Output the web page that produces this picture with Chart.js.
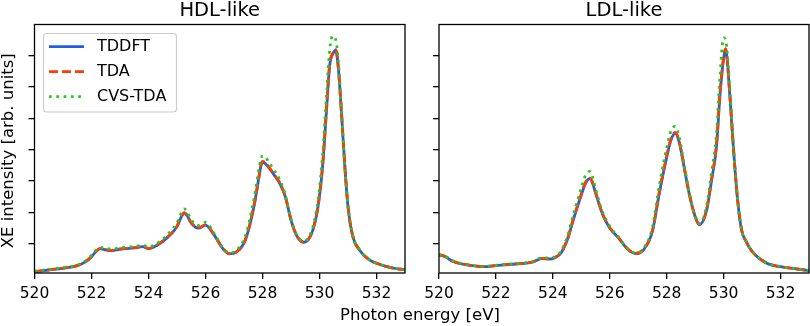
<!DOCTYPE html>
<html>
<head>
<meta charset="utf-8">
<script src="https://cdn.jsdelivr.net/npm/chart.js@4.4.1/dist/chart.umd.min.js"></script>
<style>
    html, body { margin: 0; padding: 0; background: #fff; }
    #wrap { position: relative; width: 810px; height: 326px; }
    #wrap canvas { position: absolute; left: 0; top: 0; }
</style>
</head>
<body>
<div id="wrap">
    <canvas id="hdl-chart" width="810" height="326"></canvas>
    <canvas id="ldl-chart" width="810" height="326"></canvas>
</div>
<script>
// XE spectra, values (arb. units)
const hdlEnergy = [520, 520.5, 521, 521.5, 521.8, 522.0, 522.15, 522.3, 522.5, 522.7, 523.0, 523.5, 523.8, 524.0, 524.3, 524.7,
    525.0, 525.15, 525.25, 525.35, 525.5, 525.75, 526.0, 526.3, 526.6, 526.85, 527.1, 527.4, 527.7, 527.9, 527.95, 528.0, 528.1,
    528.2, 528.4, 528.6, 528.8, 529.0, 529.2, 529.45, 529.6, 529.77, 529.95, 530.12, 530.24, 530.36, 530.47, 530.57, 530.66,
    530.77, 530.88, 531.0, 531.17, 531.4, 531.75, 532.0, 532.5, 533.0];
const hdlTddft = [0.105, 0.16, 0.214, 0.297, 0.425, 0.585, 0.74, 0.84, 0.80, 0.776, 0.821, 0.863, 0.904, 0.84, 0.949, 1.224,
    1.543, 1.85, 1.971, 1.90, 1.652, 1.492, 1.588, 1.278, 0.853, 0.671, 0.744, 1.118, 2.182, 3.249, 3.50, 3.59, 3.55,
    3.45, 3.20, 2.93, 2.50, 1.75, 1.25, 1.045, 1.118, 1.438, 2.182, 3.578, 5.176, 6.70, 7.05, 7.166, 6.60,
    5.176, 3.578, 2.182, 1.224, 0.80, 0.479, 0.374, 0.233, 0.166];
const hdlTda = [0.11, 0.165, 0.22, 0.30, 0.43, 0.59, 0.75, 0.85, 0.81, 0.785, 0.83, 0.87, 0.91, 0.85, 0.96, 1.24,
    1.56, 1.87, 1.99, 1.92, 1.67, 1.50, 1.60, 1.29, 0.86, 0.68, 0.75, 1.13, 2.21, 3.28, 3.53, 3.62, 3.58,
    3.47, 3.22, 2.95, 2.51, 1.76, 1.26, 1.05, 1.13, 1.45, 2.20, 3.62, 5.22, 6.74, 7.08, 7.19, 6.62,
    5.19, 3.59, 2.19, 1.23, 0.805, 0.48, 0.375, 0.235, 0.167];
const hdlCvs = [0.12, 0.18, 0.235, 0.32, 0.46, 0.63, 0.79, 0.88, 0.85, 0.83, 0.87, 0.91, 0.95, 0.89, 1.01, 1.32,
    1.67, 1.98, 2.11, 2.03, 1.76, 1.58, 1.68, 1.33, 0.88, 0.70, 0.80, 1.25, 2.42, 3.50, 3.72, 3.80, 3.76,
    3.63, 3.35, 3.05, 2.55, 1.78, 1.28, 1.08, 1.18, 1.55, 2.40, 3.95, 5.65, 7.20, 7.62, 7.50, 6.85,
    5.30, 3.62, 2.20, 1.24, 0.81, 0.49, 0.38, 0.24, 0.17];

const ldlEnergy = [520, 520.2, 520.5, 521.0, 521.6, 522.0, 522.5, 523.0, 523.3, 523.6, 523.9, 524.1, 524.3, 524.5, 524.75,
    525.0, 525.15, 525.3, 525.4, 525.5, 525.75, 526.0, 526.3, 526.6, 526.9, 527.2, 527.5, 527.75, 528.0, 528.15, 528.3, 528.45,
    528.6, 528.8, 529.0, 529.15, 529.4, 529.58, 529.75, 529.87, 530.0, 530.07, 530.22, 530.34, 530.48, 530.63, 530.8,
    531.0, 531.5, 532.0, 532.5, 533.0];
const ldlTddft = [0.64, 0.59, 0.43, 0.32, 0.265, 0.30, 0.34, 0.37, 0.415, 0.52, 0.51, 0.565, 0.72, 1.10, 1.85,
    2.55, 2.92, 3.07, 2.92, 2.62, 1.93, 1.50, 1.19, 0.85, 0.68, 0.82, 1.40, 2.65, 3.75, 4.30, 4.52, 4.20,
    3.50, 2.55, 1.86, 1.60, 2.05, 3.035, 4.10, 5.70, 6.90, 7.19, 5.70, 4.10, 2.50, 1.44, 1.05,
    0.75, 0.38, 0.265, 0.20, 0.14];
const ldlTda = [0.645, 0.595, 0.435, 0.325, 0.27, 0.305, 0.345, 0.375, 0.42, 0.525, 0.515, 0.57, 0.73, 1.12, 1.88,
    2.59, 2.96, 3.10, 2.95, 2.64, 1.94, 1.51, 1.20, 0.855, 0.685, 0.83, 1.42, 2.69, 3.80, 4.34, 4.55, 4.22,
    3.51, 2.56, 1.87, 1.61, 2.08, 3.08, 4.16, 5.78, 6.95, 7.22, 5.73, 4.12, 2.51, 1.445, 1.055,
    0.755, 0.382, 0.267, 0.202, 0.142];
const ldlCvs = [0.66, 0.61, 0.45, 0.33, 0.275, 0.31, 0.35, 0.385, 0.43, 0.55, 0.54, 0.60, 0.78, 1.20, 2.02,
    2.78, 3.18, 3.30, 3.12, 2.75, 2.00, 1.55, 1.22, 0.87, 0.70, 0.86, 1.52, 2.90, 4.05, 4.60, 4.74, 4.35,
    3.58, 2.60, 1.89, 1.64, 2.18, 3.30, 4.50, 6.30, 7.56, 7.50, 5.90, 4.16, 2.52, 1.45, 1.06,
    0.76, 0.385, 0.27, 0.205, 0.145];

const seriesNames = ['TDDFT', 'TDA', 'CVS-TDA'];
const xTicks = [520, 522, 524, 526, 528, 530, 532];
const yTicks = [1, 2, 3, 4, 5, 6, 7];

const FONT = 'DejaVu Sans';
const COLORS = ['#1f5fe3', '#ff3a0a', '#22c91e'];
const DASHES = [[], [9, 4], [2.7, 4.6]];
const LINE_W = 2.8;

function toPoints(xs, ys) {
    return xs.map((x, i) => ({ x: x, y: ys[i] }));
}

function buildDatasets(energy, series) {
    return series.map((vals, i) => ({
        label: seriesNames[i],
        data: toPoints(energy, vals),
        borderColor: COLORS[i],
        borderWidth: LINE_W,
        borderDash: DASHES[i],
        pointRadius: 0,
        cubicInterpolationMode: 'monotone',
        fill: false,
        order: 3 - i,   // CVS-TDA on top, like matplotlib's plotting order
    }));
}

// frame, panel title, optional legend and axis labels
const framePlugin = {
    id: 'frame',
    afterDatasetsDraw(chart, args, opts) {
        const ctx = chart.ctx;
        const a = chart.chartArea;
        ctx.save();
        ctx.strokeStyle = '#000';
        ctx.lineWidth = 1.3;
        ctx.strokeRect(a.left, a.top, a.right - a.left, a.bottom - a.top);

        ctx.fillStyle = '#000';
        ctx.font = `19.5px "${FONT}"`;
        ctx.textAlign = 'center';
        ctx.textBaseline = 'alphabetic';
        ctx.fillText(opts.title, (a.left + a.right) / 2, 16);

        if (opts.legend) {
            const bx = 43.5, by = 33.5, bw = 133, bh = 78.5, r = 3;
            ctx.beginPath();
            ctx.roundRect(bx, by, bw, bh, r);
            ctx.fillStyle = 'rgba(255,255,255,0.8)';
            ctx.fill();
            ctx.strokeStyle = '#cccccc';
            ctx.lineWidth = 1.2;
            ctx.stroke();
            ctx.font = `16px "${FONT}"`;
            ctx.textAlign = 'left';
            ctx.textBaseline = 'middle';
            seriesNames.forEach((name, i) => {
                const y = 46.7 + i * 25;
                ctx.beginPath();
                ctx.setLineDash(DASHES[i]);
                ctx.strokeStyle = COLORS[i];
                ctx.lineWidth = LINE_W;
                ctx.moveTo(49, y);
                ctx.lineTo(84, y);
                ctx.stroke();
                ctx.setLineDash([]);
                ctx.fillStyle = '#000';
                ctx.fillText(name, 97, y);
            });
        }

        if (opts.yLabel) {
            ctx.save();
            ctx.translate(9, (a.top + a.bottom) / 2 + 2);
            ctx.rotate(-Math.PI / 2);
            ctx.font = `16.5px "${FONT}"`;
            ctx.textAlign = 'center';
            ctx.textBaseline = 'middle';
            ctx.fillStyle = '#000';
            ctx.fillText(opts.yLabel, 0, 0);
            ctx.restore();
        }
        if (opts.xLabel) {
            ctx.font = `16.5px "${FONT}"`;
            ctx.textAlign = 'center';
            ctx.textBaseline = 'middle';
            ctx.fillStyle = '#000';
            ctx.fillText(opts.xLabel, 420, 316);
        }
        ctx.restore();
    },
};

function makeChart(canvasId, energy, series, panel) {
    return new Chart(document.getElementById(canvasId), {
        type: 'line',
        data: { datasets: buildDatasets(energy, series) },
        plugins: [framePlugin],
        options: {
            responsive: false,
            animation: false,
            events: [],
            layout: { padding: panel.padding },
            plugins: {
                legend: { display: false },
                tooltip: { enabled: false },
                title: { display: false },
                frame: panel.frame,
            },
            scales: {
                x: {
                    type: 'linear',
                    min: 520,
                    max: 533,
                    afterBuildTicks: (s) => { s.ticks = xTicks.map(v => ({ value: v })); },
                    afterFit: (s) => { s.height = 53; },
                    grid: { drawOnChartArea: false, drawTicks: true, tickLength: 6, color: '#000', lineWidth: 1.3 },
                    border: { display: false },
                    ticks: { color: '#000', font: { family: FONT, size: 15.5 }, padding: 6, maxRotation: 0 },
                },
                y: {
                    type: 'linear',
                    min: 0.064,
                    max: 7.987,
                    afterBuildTicks: (s) => { s.ticks = yTicks.map(v => ({ value: v })); },
                    afterFit: (s) => { s.width = panel.yWidth; },
                    grid: { drawOnChartArea: false, drawTicks: true, tickLength: 6, color: '#000', lineWidth: 1.3 },
                    border: { display: false },
                    ticks: { display: false },
                },
            },
        },
    });
}

makeChart('hdl-chart', hdlEnergy, [hdlTddft, hdlTda, hdlCvs], {
    padding: { left: 0, right: 405, top: 24.5, bottom: 0 },
    yWidth: 34.5,
    frame: { title: 'HDL-like', legend: true, yLabel: 'XE intensity [arb. units]', xLabel: 'Photon energy [eV]' },
});

makeChart('ldl-chart', ldlEnergy, [ldlTddft, ldlTda, ldlCvs], {
    padding: { left: 433, right: 1, top: 24.5, bottom: 0 },
    yWidth: 6,
    frame: { title: 'LDL-like', legend: false },
});
</script>
</body>
</html>
